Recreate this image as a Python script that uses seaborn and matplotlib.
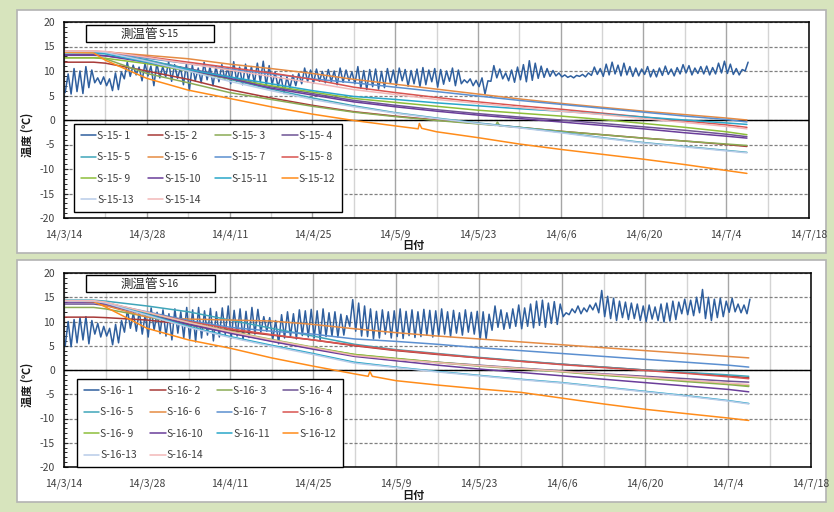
import numpy as np
import pandas as pd
import matplotlib
matplotlib.use("Agg")
import matplotlib.pyplot as plt
import seaborn as sns
from matplotlib.patches import Rectangle
from matplotlib.lines import Line2D

# ---------------------------------------------------------------- data
START = "2014-03-14"
KEY_DAYS = [0, 5, 7, 14, 21, 28, 35, 42, 49, 56, 63, 70, 77, 84, 91, 98, 105, 112, 115.5]
XTICK_DAYS = [0, 14, 28, 42, 56, 70, 84, 98, 112, 126]
XTICK_LABELS = ["14/3/14", "14/3/28", "14/4/11", "14/4/25", "14/5/9",
                "14/5/23", "14/6/6", "14/6/20", "14/7/4", "14/7/18"]
XMINOR_DAYS = [7, 21, 35, 49, 63, 77, 91, 105, 119]
YTICKS = [-20, -15, -10, -5, 0, 5, 10, 15, 20]

COLORS = ["#2f5f9e", "#a83a38", "#8aab55", "#6e5494", "#3fa5b9", "#e58b43", "#5b8fd0",
          "#d9534f", "#8dbe3a", "#6a3d9a", "#2aa7c9", "#ff8c1a", "#b8cce8", "#f2b8b8"]

# ---- panel S-15 : series 1 (daily lows / highs)
S15_1_HI = [9.4, 10.5, 10.0, 10.9, 10.2, 8.6, 8.8, 8.4, 9.6, 9.8,
            11.8, 11.2, 10.8, 11.5, 11.0, 11.6, 10.9, 11.9, 11.3, 10.8, 11.4,
            11.2, 10.6, 11.8, 10.9, 11.0, 11.3, 10.7, 11.9, 10.8, 11.4, 10.9, 11.6, 12.0, 11.1, 9.8, 9.0, 8.8, 9.2, 9.5, 10.6, 10.2,
            10.4, 9.9, 10.3, 10.0, 10.6, 10.2, 9.8, 10.9,
            10.1, 10.3, 10.4, 9.9, 10.5, 10.2, 10.6, 10.3, 10.1, 10.4, 10.7, 10.2, 10.5, 10.3, 10.0, 10.6, 10.2,
            8.2, 8.4, 8.1, 8.6, 8.0,
            11.1, 10.4, 9.6, 10.2, 10.8, 11.3, 12.1, 11.6, 11.0, 10.5, 10.1, 9.6,
            9.2, 9.0, 9.1, 9.3, 9.6,
            10.8, 10.5, 11.4, 11.8, 11.2, 11.6, 10.9, 10.6, 10.4, 10.9, 10.3, 10.6, 11.0, 10.4, 10.7, 11.3, 11.1, 10.6, 10.9, 11.0, 10.7, 11.6, 12.0, 11.4, 10.5, 10.3, 11.8]
S15_1_LO = [5.6, 5.3, 5.8, 5.4, 6.6, 7.6, 7.3, 7.0, 6.0, 6.2,
            8.4, 8.9, 9.2, 8.0, 9.0, 7.0, 8.6, 8.8, 7.9, 8.5, 7.2,
            6.0, 8.0, 7.6, 8.2, 7.0, 7.8, 8.3, 7.4, 7.9, 7.2, 8.1, 7.5, 7.8, 7.0, 7.2, 6.8, 5.4, 6.5, 7.0, 7.4, 7.8,
            7.5, 7.9, 7.6, 7.8, 7.2, 7.7, 8.0, 7.4,
            6.5, 6.2, 6.8, 6.3, 6.6, 7.5, 7.0, 8.0, 6.9, 7.4, 6.8, 7.2, 7.8, 6.7, 7.3, 7.9, 7.0,
            7.4, 7.6, 7.0, 6.8, 5.3,
            7.9, 8.6, 8.4, 8.0, 7.7, 8.2, 7.8, 8.1, 8.5, 8.7, 8.9, 9.0,
            8.8, 8.7, 8.6, 8.9, 8.8,
            9.1, 9.3, 8.9, 9.2, 9.4, 9.0, 9.2, 8.9, 9.0, 9.3, 8.8, 8.8, 9.1, 9.3, 9.0, 9.4, 9.6, 9.2, 9.5, 9.4, 9.2, 9.4, 9.6, 9.5, 9.3, 9.2, 10.0]

# ---- panel S-15 : series 2..14 at KEY_DAYS
S15_2 = [11.8, 11.8, 11.6, 10.0, 8.3, 6.2, 4.5, 3.0, 1.7, 0.8, 0.0, -0.7, -1.5, -2.3, -3.0, -3.7, -4.3, -5.0, -5.4]
S15_3 = [12.7, 12.7, 12.5, 9.5, 7.6, 5.6, 4.2, 2.8, 1.6, 0.7, -0.1, -0.8, -1.5, -2.3, -3.0, -3.7, -4.3, -4.9, -5.2]
S15_4 = [13.2, 13.2, 13.1, 12.1, 10.5, 8.8, 6.8, 5.4, 4.0, 3.0, 2.1, 1.3, 0.6, 0.0, -0.7, -1.4, -2.1, -2.9, -3.4]
S15_5 = [13.9, 13.9, 13.7, 12.3, 10.4, 8.3, 6.3, 4.5, 2.9, 1.5, 0.4, -0.6, -1.5, -2.5, -3.6, -4.6, -5.4, -6.2, -6.6]
S15_6 = [14.0, 14.0, 13.9, 13.2, 12.5, 11.4, 10.5, 9.5, 8.3, 7.3, 6.3, 5.3, 4.3, 3.4, 2.6, 1.8, 1.1, 0.4, 0.0]
S15_7 = [13.9, 13.9, 13.8, 12.6, 11.5, 10.4, 9.4, 8.4, 7.6, 6.7, 5.8, 4.9, 4.0, 3.2, 2.4, 1.6, 0.8, 0.1, -0.4]
S15_8 = [14.0, 14.0, 13.9, 12.9, 11.8, 10.7, 9.6, 8.3, 6.7, 5.6, 4.6, 3.7, 2.9, 2.2, 1.4, 0.6, -0.2, -1.0, -1.5]
S15_9 = [12.7, 12.7, 12.6, 11.5, 10.0, 8.4, 7.0, 5.7, 4.4, 3.6, 2.8, 2.0, 1.4, 0.8, 0.1, -0.7, -1.5, -2.4, -3.0]
S15_10 = [13.3, 13.3, 13.1, 11.8, 10.2, 8.5, 6.5, 5.1, 3.7, 2.7, 1.8, 1.0, 0.3, -0.4, -1.1, -1.8, -2.6, -3.3, -3.7]
S15_11 = [13.7, 13.7, 13.5, 11.8, 10.3, 8.8, 7.4, 6.0, 4.8, 4.2, 3.5, 2.9, 2.3, 1.8, 1.2, 0.6, 0.0, -0.6, -0.9]
S15_12 = [13.8, 13.7, 12.2, 8.5, 6.1, 4.4, 2.7, 1.2, -0.1, -1.2, -2.4, -3.6, -4.9, -6.0, -7.0, -8.0, -9.1, -10.3, -10.9]
S15_13 = [14.0, 14.0, 13.8, 12.0, 10.0, 7.9, 6.0, 4.2, 2.7, 1.4, 0.3, -0.7, -1.6, -2.6, -3.7, -4.7, -5.5, -6.3, -6.7]
S15_14 = [14.1, 14.1, 14.0, 12.8, 11.5, 10.2, 8.9, 7.6, 6.2, 5.2, 4.2, 3.4, 2.6, 1.8, 1.1, 0.3, -0.5, -1.3, -1.8]
# small spikes
S15_3_SPIKE_DAYS = [73.0, 73.3, 73.7]
S15_3_SPIKE_VALS = [-1.1, -0.4, -1.2]
S15_12_SPIKE_DAYS = [59.9, 60.1, 60.5]
S15_12_SPIKE_VALS = [-1.8, -0.7, -1.7]

# ---- panel S-16 : series 1 (daily lows / highs)
S16_1_HI = [10.0, 10.4, 10.8, 11.0, 10.2, 9.6, 9.0, 8.6, 9.4, 10.2,
            12.5, 11.8, 12.2, 11.5, 12.8, 11.9, 12.4, 11.6, 12.6, 12.0, 12.9,
            12.4, 12.9, 12.2, 12.7, 12.0, 12.8, 13.2, 12.3, 12.6, 12.1, 12.9, 12.5, 11.0, 10.8, 10.2, 11.4, 12.0, 11.6, 12.4, 12.2, 12.5,
            12.2, 12.6, 11.8, 12.0, 11.5, 11.2, 14.5, 13.8,
            13.2, 12.6, 12.1, 12.4, 12.0, 12.2, 12.6, 12.1, 12.4, 12.0, 12.5, 12.3, 12.2, 12.6, 12.0, 12.3, 11.8, 12.4, 11.9, 12.1, 12.0,
            11.5, 13.2, 12.4, 11.8, 12.6, 13.4, 12.8, 13.6, 14.2, 14.4, 13.8, 14.1, 13.6,
            11.8, 12.6, 13.2, 12.8, 13.4, 13.8,
            16.4, 15.2, 14.8, 14.2, 14.0, 13.8, 13.6, 13.2, 13.4, 13.0, 13.6, 13.8, 14.2, 14.0, 14.6, 14.4, 15.0, 16.6, 15.0, 14.6, 14.8, 14.2, 14.8, 13.6, 13.4, 14.6]
S16_1_LO = [5.0, 4.8, 5.6, 6.2, 5.4, 7.4, 6.8, 7.0, 5.2, 5.6,
            7.8, 8.6, 8.0, 7.4, 6.8, 8.2, 7.5, 7.0, 6.2, 7.6, 6.6,
            6.4, 5.8, 6.6, 7.2, 6.0, 6.8, 7.3, 6.5, 7.0, 6.2, 6.7, 7.4, 7.8, 8.0, 6.2, 5.4, 6.6, 6.9, 6.4, 7.1, 6.8,
            6.6, 6.2, 6.9, 7.0, 6.8, 7.2, 9.0, 8.0,
            7.0, 6.9, 6.4, 6.6, 7.4, 6.6, 6.9, 6.5, 7.1, 6.7, 6.9, 7.2, 6.8, 7.0, 7.4, 6.9, 7.6, 7.2, 7.8, 7.4, 6.3,
            6.4, 8.2, 8.8, 8.4, 8.6, 9.0, 8.5, 9.0, 8.7, 9.2, 8.8, 9.6, 9.4,
            11.0, 11.4, 11.8, 11.6, 12.0, 12.4,
            11.8, 11.0, 10.6, 10.2, 10.8, 10.4, 10.6, 10.2, 10.0, 10.5, 10.2, 9.9, 10.1, 10.4, 11.6, 11.4, 11.2, 11.8, 10.6, 10.2, 10.8, 11.0, 11.9, 12.0, 11.8, 11.6]

# ---- panel S-16 : series 2..14 at KEY_DAYS
S16_2 = [10.9, 10.9, 10.8, 10.3, 9.4, 8.2, 7.2, 6.2, 5.0, 4.0, 3.2, 2.5, 1.8, 1.2, 0.6, 0.0, -0.6, -1.2, -1.6]
S16_3 = [12.9, 12.9, 12.6, 11.0, 9.3, 7.7, 6.1, 4.6, 3.2, 2.3, 1.5, 0.8, 0.2, -0.4, -1.1, -1.7, -2.4, -3.0, -3.4]
S16_4 = [13.6, 13.6, 13.3, 11.4, 9.5, 7.7, 6.0, 4.4, 3.0, 2.3, 1.6, 1.0, 0.4, -0.2, -0.8, -1.3, -1.8, -2.3, -2.5]
S16_5 = [14.4, 14.4, 14.2, 13.2, 12.0, 10.3, 8.6, 7.0, 5.3, 4.2, 3.4, 2.6, 1.9, 1.2, 0.6, 0.0, -0.5, -1.0, -1.3]
S16_6 = [14.3, 14.1, 13.3, 10.9, 10.5, 10.3, 10.1, 9.4, 8.5, 7.7, 7.0, 6.4, 5.8, 5.2, 4.6, 4.0, 3.4, 2.8, 2.5]
S16_7 = [14.2, 14.1, 13.8, 12.0, 10.2, 8.8, 8.0, 7.4, 6.4, 5.9, 5.3, 4.6, 4.0, 3.4, 2.8, 2.2, 1.6, 1.0, 0.6]
S16_8 = [14.2, 14.2, 13.9, 11.8, 10.0, 8.5, 7.3, 6.2, 5.1, 4.1, 3.3, 2.5, 1.8, 1.1, 0.5, -0.1, -0.7, -1.4, -1.8]
S16_9 = [14.2, 14.2, 13.9, 11.8, 9.8, 8.0, 6.3, 4.7, 3.2, 2.4, 1.6, 0.9, 0.3, -0.3, -1.0, -1.6, -2.2, -2.8, -3.2]
S16_10 = [14.0, 14.0, 13.6, 11.5, 9.4, 7.6, 5.9, 4.3, 2.8, 1.9, 1.0, 0.2, -0.5, -1.2, -1.9, -2.6, -3.3, -4.0, -4.5]
S16_11 = [14.3, 14.3, 13.9, 11.5, 9.0, 6.9, 5.1, 3.4, 1.6, 0.6, -0.3, -1.1, -1.9, -2.6, -3.5, -4.4, -5.3, -6.3, -6.9]
S16_12 = [14.3, 14.1, 13.0, 8.6, 6.2, 4.5, 2.5, 0.8, -0.8, -2.2, -3.1, -3.9, -4.6, -5.8, -7.0, -8.1, -9.0, -9.9, -10.4]
S16_13 = [14.2, 14.2, 13.8, 11.3, 8.8, 6.7, 4.9, 3.2, 1.4, 0.5, -0.4, -1.2, -2.0, -2.7, -3.6, -4.5, -5.4, -6.4, -7.0]
S16_14 = [14.3, 14.3, 14.0, 11.9, 9.8, 7.9, 6.2, 4.6, 3.0, 2.2, 1.5, 0.9, 0.3, -0.3, -0.9, -1.5, -2.1, -2.7, -3.0]
S16_12_SPIKE_DAYS = [51.3, 51.6, 52.0]
S16_12_SPIKE_VALS = [-1.3, -0.3, -1.3]

# ---------------------------------------------------------------- helpers
BASE = pd.Timestamp(START)


def to_dates(days):
    return BASE + pd.to_timedelta(np.asarray(days, dtype=float), unit="D")


def build_frame(prefix, hi, lo, curves, spikes):
    names = [f"{prefix}-{i:2d}" for i in range(1, 15)]
    frames = []
    n = min(len(hi), len(lo))
    d = np.arange(n)
    t = np.column_stack([d + 0.2, d + 0.7]).ravel()
    v = np.column_stack([lo[:n], hi[:n]]).ravel()
    frames.append(pd.DataFrame({"day": t, "temp": v, "series": names[0]}))
    for k, vals in enumerate(curves):
        t = list(KEY_DAYS)
        v = list(vals)
        if k + 2 in spikes:
            sd, sv = spikes[k + 2]
            t += list(sd)
            v += list(sv)
        frames.append(pd.DataFrame({"day": t, "temp": v, "series": names[k + 1]}))
    df = pd.concat(frames, ignore_index=True)
    df["date"] = to_dates(df["day"].values)
    return df, names


# ---------------------------------------------------------------- figure
sns.set_style("white")
plt.rcParams["font.family"] = ["Noto Sans CJK JP", "DejaVu Sans"]
plt.rcParams["axes.unicode_minus"] = False

W, H = 834, 512
fig = plt.figure(figsize=(W / 100, H / 100), dpi=100)
fig.patch.set_facecolor("#d7e4bd")


def fx(px):
    return px / W


def fy(py):
    return 1 - py / H


panels = [
    dict(prefix="S-15", hi=S15_1_HI, lo=S15_1_LO,
         curves=[S15_2, S15_3, S15_4, S15_5, S15_6, S15_7, S15_8, S15_9, S15_10, S15_11, S15_12, S15_13, S15_14],
         spikes={3: (S15_3_SPIKE_DAYS, S15_3_SPIKE_VALS), 12: (S15_12_SPIKE_DAYS, S15_12_SPIKE_VALS)},
         card=(17, 10, 826, 253), ax=(64, 22, 809, 218), title=(86, 25, 214, 42),
         legend=(74, 124, 342, 213), ylab=(27, 135), xlab=(413, 246)),
    dict(prefix="S-16", hi=S16_1_HI, lo=S16_1_LO,
         curves=[S16_2, S16_3, S16_4, S16_5, S16_6, S16_7, S16_8, S16_9, S16_10, S16_11, S16_12, S16_13, S16_14],
         spikes={12: (S16_12_SPIKE_DAYS, S16_12_SPIKE_VALS)},
         card=(17, 260, 826, 502), ax=(64, 273, 811, 467), title=(86, 275, 215, 292),
         legend=(77, 379, 343, 463), ylab=(27, 385), xlab=(413, 495)),
]

tick_color = "#404040"
for p in panels:
    x0, y0, x1, y1 = p["card"]
    fig.add_artist(Rectangle((fx(x0), fy(y1)), fx(x1 - x0), (y1 - y0) / H, transform=fig.transFigure,
                             facecolor="white", edgecolor="#b3b3b3", lw=1.2, zorder=-5))
    a0, b0, a1, b1 = p["ax"]
    ax = fig.add_axes([fx(a0), fy(b1), fx(a1 - a0), (b1 - b0) / H])
    ax.set_facecolor("white")
    df, names = build_frame(p["prefix"], p["hi"], p["lo"], p["curves"], p["spikes"])
    sns.lineplot(data=df, x="date", y="temp", hue="series", hue_order=names,
                 palette=dict(zip(names, COLORS)), estimator=None, sort=True,
                 linewidth=1.1, legend=False, ax=ax)
    ax.set_xlim(to_dates([0])[0], to_dates([126])[0])
    ax.set_ylim(-20, 20)
    ax.set_xticks(to_dates(XTICK_DAYS))
    ax.set_xticklabels(XTICK_LABELS)
    ax.set_xticks(to_dates(XMINOR_DAYS), minor=True)
    ax.set_yticks(YTICKS)
    ax.set_yticklabels([str(v) for v in YTICKS])
    ax.set_yticks(np.arange(-20, 21, 1), minor=True)
    ax.set_xlabel("")
    ax.set_ylabel("")
    ax.set_axisbelow(True)
    ax.grid(True, axis="x", which="major", color="#a6a6a6", lw=1.0)
    ax.grid(True, axis="x", which="minor", color="#d4d4d4", lw=1.0)
    ax.grid(True, axis="y", which="major", color="#808080", lw=0.9, ls=(0, (2.5, 1.5)))
    ax.axhline(0, color="black", lw=1.0, zorder=1.5)
    ax.tick_params(axis="x", which="both", length=0, pad=8, labelsize=7.5, labelcolor=tick_color)
    ax.tick_params(axis="y", which="major", direction="in", length=3, width=0.8, pad=6.5,
                   labelsize=7.5, labelcolor=tick_color, left=True)
    ax.tick_params(axis="y", which="minor", direction="in", length=2, width=0.7, left=True)
    for s in ax.spines.values():
        s.set_color("black")
        s.set_linewidth(1.1)

    # title box
    t0, u0, t1, u1 = p["title"]
    fig.add_artist(Rectangle((fx(t0), fy(u1)), fx(t1 - t0), (u1 - u0) / H, transform=fig.transFigure,
                             facecolor="white", edgecolor="black", lw=1.0, zorder=5))
    ymid = fy((u0 + u1) / 2 + 0.5)
    fig.text(fx(158.5), ymid, "測温管", ha="right", va="center", fontsize=9, color="#262626", zorder=6)
    fig.text(fx(159), ymid, p["prefix"], ha="left", va="center", fontsize=7, color="#262626", zorder=6)

    # legend (row-major order like the reference)
    handles = [Line2D([], [], color=c, lw=1.1) for c in COLORS]
    order = [0, 4, 8, 12, 1, 5, 9, 13, 2, 6, 10, 3, 7, 11]
    l0, m0, l1, m1 = p["legend"]
    leg = ax.legend([handles[i] for i in order], [names[i] for i in order], ncol=4,
                    loc="upper left", bbox_to_anchor=(fx(l0), fy(m1), fx(l1 - l0), (m1 - m0) / H),
                    bbox_transform=fig.transFigure, mode="expand", borderaxespad=0,
                    frameon=True, fancybox=False, edgecolor="black", fontsize=7.5,
                    handlelength=1.5, handletextpad=0.1, labelspacing=1.1, borderpad=0.65,
                    columnspacing=1.0)
    leg.get_frame().set_linewidth(1.0)
    leg.get_frame().set_alpha(1)
    for txt in leg.get_texts():
        txt.set_color(tick_color)

    # axis labels
    fig.text(fx(p["ylab"][0]), fy(p["ylab"][1]), "温度 (℃)", rotation=90, ha="center", va="center",
             fontsize=8, fontweight="bold", color="#1a1a1a")
    fig.text(fx(p["xlab"][0]), fy(p["xlab"][1]), "日付", ha="center", va="center",
             fontsize=8, fontweight="bold", color="#1a1a1a")

fig.savefig("out.png", dpi=100, facecolor=fig.get_facecolor())
